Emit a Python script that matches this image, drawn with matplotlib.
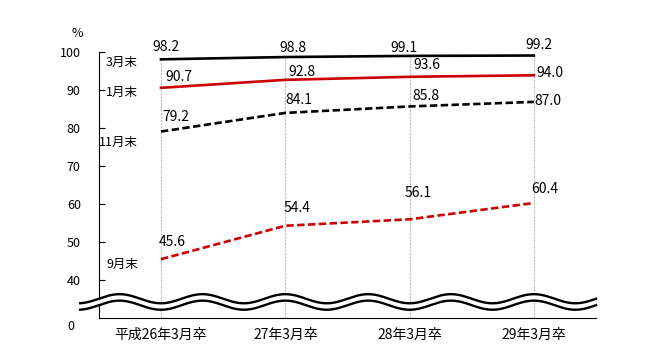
import numpy as np
import matplotlib
matplotlib.use("Agg")
import matplotlib.pyplot as plt

plt.rcParams['font.family'] = ['Noto Sans CJK JP', 'DejaVu Sans']

# ---- data ----
categories = ["平成26年3月卒", "27年3月卒", "28年3月卒", "29年3月卒"]
series_names = ["3月末", "1月末", "11月末", "9月末"]
mar_end = [98.2, 98.8, 99.1, 99.2]
jan_end = [90.7, 92.8, 93.6, 94.0]
nov_end = [79.2, 84.1, 85.8, 87.0]
sep_end = [45.6, 54.4, 56.1, 60.4]
y_ticks = [40, 50, 60, 70, 80, 90, 100]

series = [mar_end, jan_end, nov_end, sep_end]

# ---- styles / positions ----
colors = ["#000000", "#cc0000", "#000000", "#cc0000"]
styles = ["-", "-", (0, (2.8, 1.3)), (0, (2.8, 1.3))]
# label offsets in pixels (dx, dy) relative to each point (dy positive = up)
offsets = [
    [(4.5, 12.6), (7.5, 9), (-5.5, 8.2), (5, 11)],
    [(17.5, 11), (17, 8), (17.5, 12), (16, 2)],
    [(14.5, 15), (13.5, 13), (16, 10.5), (14, 1)],
    [(11.5, 17.5), (12, 17.4), (9, 26), (10.5, 14)],
]
name_pos_y = [97.5, 89.6, 76.2, 44.1]

fig = plt.figure(figsize=(6.45, 3.52), dpi=100)
ax = fig.add_axes([0.1532, 0.0952, 0.7709, 0.7557])
x = np.arange(len(categories))

ax.set_xlim(-0.5, 3.5)
ax.set_ylim(30, 100)

# vertical grid lines from bottom to top series
ax.vlines(x, 30, mar_end, colors="#c4b4cc", linestyles=(0, (2, 1)), lw=0.8, zorder=1)

for vals, c, ls in zip(series, colors, styles):
    ax.plot(x, vals, color=c, linestyle=ls, lw=1.9, zorder=4, clip_on=False)

for vals, offs in zip(series, offsets):
    for xi, v, (dx, dy) in zip(x, vals, offs):
        ax.annotate(f"{v:.1f}", (xi, v), xytext=(dx, dy), textcoords="offset pixels",
                    ha="center", va="center", fontsize=10, color="black", zorder=6)

for name, py in zip(series_names, name_pos_y):
    ax.text(-0.185, py, name, ha="right", va="center", fontsize=9, color="black")

# spines
for s in ["top", "right"]:
    ax.spines[s].set_visible(False)
ax.spines["left"].set_linewidth(0.8)
ax.spines["bottom"].set_linewidth(0.8)

ax.set_yticks(y_ticks)
ax.set_yticklabels([str(t) for t in y_ticks])
ax.tick_params(axis="y", direction="in", length=4, width=0.8, pad=13, labelsize=9)
ax.set_xticks(x)
ax.set_xticklabels(categories)
ax.tick_params(axis="x", length=0, pad=7, labelsize=10)

ax.text(-0.728, 27.8, "0", ha="center", va="center", fontsize=9, clip_on=False)
ax.text(-0.672, 105.1, "%", ha="center", va="center", fontsize=9, clip_on=False)

# broken-axis wave
xw = np.linspace(-0.65, 3.5, 600)
period = 2.0 / 3.0
amp = 1.2
up = 35.2 - amp * np.cos(2 * np.pi * xw / period)
lo = 33.5 - amp * np.cos(2 * np.pi * xw / period)
ax.fill_between(xw, lo, up, color="white", zorder=3, clip_on=False, lw=0)
ax.plot(xw, up, color="black", lw=1.7, zorder=5, clip_on=False)
ax.plot(xw, lo, color="black", lw=1.7, zorder=5, clip_on=False)

fig.savefig("out.png", dpi=100)
